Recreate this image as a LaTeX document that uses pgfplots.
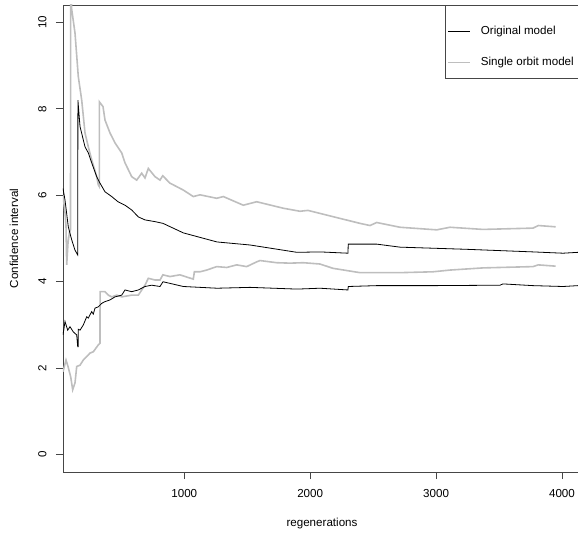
\documentclass[border=0pt]{standalone}
\usepackage{fontspec}
\setmainfont{Liberation Sans}
\usepackage{pgfplots}
\pgfplotsset{compat=1.18}
\definecolor{rgray}{RGB}{190,190,190}
\definecolor{frame}{RGB}{70,70,70}
\begin{document}
\fontsize{11.6}{13.9}\selectfont
\begin{tikzpicture}
\begin{axis}[
  scale only axis,
  width=518pt, height=467pt,
  xmin=36.5, xmax=4151, ymin=-0.4, ymax=10.4,
  xtick={1000,2000,3000,4000}, ytick={0,2,4,6,8,10},
  xtick pos=left, ytick pos=left,
  tick align=outside,
  major tick length=7pt,
  axis line style={frame, line width=0.75pt},
  every tick/.style={frame, line width=0.75pt},
  /pgf/number format/assume math mode=true,
  /pgf/number format/1000 sep={},
  tick label style={font=\fontsize{11.6}{13.9}\selectfont},
  xticklabel style={anchor=north, inner sep=0pt},
  yticklabel style={rotate=90, anchor=south, inner sep=0pt},
  xticklabel shift=10.3pt, yticklabel shift=9.3pt,
  xlabel={regenerations}, ylabel={Confidence interval},
  label style={font=\fontsize{11.6}{13.9}\selectfont},
  xlabel style={at={(axis description cs:0.5,-0.1113)}, anchor=center},
  ylabel style={at={(axis description cs:-0.0946,0.5)}, anchor=center},
]
% single orbit model, upper
\addplot[rgray, line width=1.6pt] coordinates {
(36.5,6.00) (52.4,5.60) (60.4,5.30) (65.9,4.39) (76.3,4.90) (88.2,5.15) (96.1,5.20)
(97.7,10.80) (105.6,10.30) (131.9,9.75) (158.1,8.74) (185.1,8.20) (211.4,7.44)
(237.5,7.12) (264.5,6.82) (304.2,6.43) (316.9,6.24) (324.9,6.20) (325.5,8.16)
(354.3,8.05) (370.1,7.74) (409.9,7.44) (449.6,7.21) (502.8,6.98) (529.0,6.75)
(582.2,6.43) (621.9,6.35) (661.6,6.51) (687.8,6.40) (714.1,6.62) (767.3,6.43)
(807.0,6.35) (828.4,6.45) (886.4,6.28) (992.1,6.12) (1071.5,5.97) (1124.7,6.01)
(1257.3,5.93) (1309.8,5.97) (1468.6,5.77) (1575.1,5.85) (1786.3,5.70) (1919.0,5.63)
(1982.5,5.65) (2077.8,5.58) (2395.5,5.35) (2474.9,5.30) (2528.2,5.37) (2713.3,5.26)
(3004.8,5.20) (3110.4,5.26) (3372.5,5.21) (3769.7,5.24) (3811.8,5.30) (3950.0,5.27)
};
% single orbit model, lower
\addplot[rgray, line width=1.6pt] coordinates {
(36.5,1.92) (60.4,2.19) (76.3,2.04) (97.7,1.80) (113.6,1.50) (131.9,1.66)
(145.4,2.04) (171.6,2.07) (197.8,2.19) (224.8,2.27) (251.0,2.35) (277.2,2.38)
(316.9,2.54) (330.4,2.58) (331.0,3.77) (370.1,3.77) (396.3,3.69) (423.4,3.65)
(463.1,3.69) (502.8,3.65) (582.2,3.69) (634.6,3.69) (687.8,3.92) (714.1,4.08)
(767.3,4.04) (807.0,4.04) (830.0,4.16) (886.4,4.12) (965.0,4.16) (1071.5,4.06)
(1080.0,4.23) (1124.7,4.23) (1178.0,4.27) (1257.3,4.35) (1336.8,4.33) (1416.2,4.39)
(1495.6,4.35) (1575.1,4.46) (1601.3,4.49) (1733.9,4.44) (1839.6,4.43) (1945.2,4.44)
(2077.8,4.41) (2181.1,4.31) (2395.5,4.21) (2713.3,4.21) (2975.4,4.23) (3110.4,4.27)
(3372.5,4.32) (3769.7,4.35) (3811.8,4.39) (3950.0,4.36)
};
% original model, upper
\addplot[black, line width=0.8pt] coordinates {
(36.5,6.16) (52.4,5.89) (78.6,5.27) (105.6,4.97) (131.9,4.73) (153.3,4.62)
(155.0,8.20) (171.6,7.59) (211.4,7.12) (237.5,6.98) (264.5,6.75) (304.2,6.43)
(330.4,6.28) (370.1,6.08) (423.4,5.97) (473.4,5.85) (529.0,5.77) (582.2,5.66)
(634.6,5.50) (687.8,5.43) (767.3,5.39) (830.8,5.35) (992.1,5.13) (1259.8,4.92)
(1521.8,4.85) (1895.2,4.68) (2077.8,4.69) (2300.2,4.66) (2302.0,4.87) (2528.2,4.87)
(2713.3,4.80) (3243.1,4.75) (3769.7,4.69) (4007.9,4.66) (4127.1,4.68) (4160.0,4.68)
};
% original model, lower
\addplot[black, line width=0.8pt] coordinates {
(36.5,2.77) (52.4,3.08) (73.9,2.88) (92.1,2.96) (118.3,2.84) (145.4,2.77)
(153.3,2.50) (157.0,2.50) (158.0,2.90) (171.6,2.88) (197.8,3.00) (224.8,3.19)
(237.5,3.16) (264.5,3.31) (277.0,3.25) (290.7,3.39) (316.9,3.42) (343.9,3.50)
(370.1,3.54) (409.9,3.58) (449.6,3.65) (502.8,3.69) (529.0,3.81) (582.2,3.77)
(634.6,3.81) (687.8,3.89) (741.1,3.92) (807.0,3.89) (830.8,4.00) (992.1,3.89)
(1259.8,3.85) (1521.8,3.87) (1895.2,3.83) (2077.8,3.85) (2300.2,3.81) (2302.0,3.89)
(2528.2,3.91) (2975.4,3.91) (3507.5,3.92) (3531.4,3.95) (3769.7,3.91) (4007.9,3.89)
(4127.1,3.91) (4160.0,3.91)
};
\end{axis}
% legend
\draw[frame, line width=0.7pt, fill=white] ([xshift=-136pt]current axis.north east) rectangle ([yshift=-73.3pt]current axis.north east);
\draw[black, line width=0.8pt] ([xshift=-133pt,yshift=-26.7pt]current axis.north east) -- ++(22pt,0);
\draw[rgray, line width=0.8pt] ([xshift=-133pt,yshift=-57.7pt]current axis.north east) -- ++(22pt,0);
\node[anchor=west, inner sep=0pt] at ([xshift=-100.3pt,yshift=-26.7pt]current axis.north east) {Original model};
\node[anchor=west, inner sep=0pt] at ([xshift=-100.3pt,yshift=-57.7pt]current axis.north east) {Single orbit model};
\pgfresetboundingbox
\path[use as bounding box] ([xshift=-63pt,yshift=-64pt]current axis.south west) rectangle ([xshift=-3pt,yshift=5pt]current axis.north east);
\end{tikzpicture}
\end{document}
